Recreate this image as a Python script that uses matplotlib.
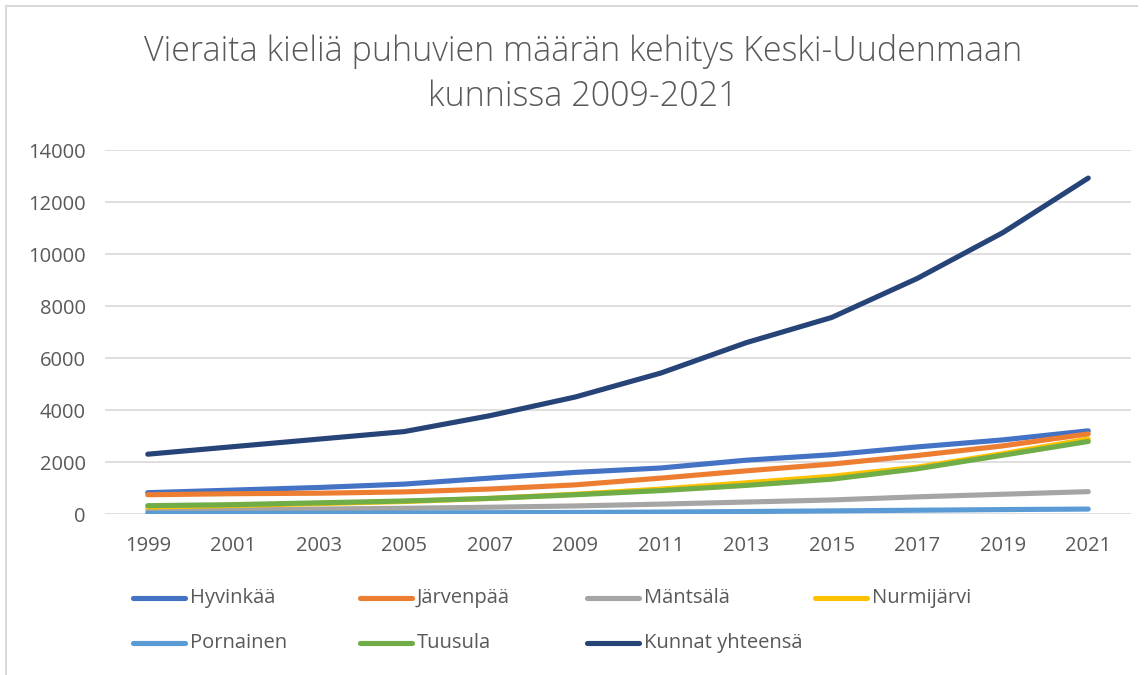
import matplotlib
matplotlib.use("Agg")
import matplotlib.pyplot as plt
from matplotlib.lines import Line2D

plt.rcParams['font.family'] = ['Open Sans', 'DejaVu Sans']

title = "Vieraita kieliä puhuvien määrän kehitys Keski-Uudenmaan\nkunnissa 2009-2021"
years = [1999, 2001, 2003, 2005, 2007, 2009, 2011, 2013, 2015, 2017, 2019, 2021]
series_names = ["Hyvinkää", "Järvenpää", "Mäntsälä", "Nurmijärvi",
                "Pornainen", "Tuusula", "Kunnat yhteensä"]
hyvinkaa = [820, 920, 1020, 1150, 1380, 1600, 1770, 2070, 2280, 2580, 2850, 3200]
jarvenpaa = [740, 780, 800, 850, 960, 1120, 1380, 1660, 1920, 2250, 2620, 3080]
mantsala = [130, 160, 190, 220, 260, 310, 380, 460, 540, 660, 760, 860]
nurmijarvi = [270, 330, 400, 480, 600, 760, 960, 1200, 1450, 1800, 2320, 2880]
pornainen = [20, 25, 30, 40, 50, 60, 75, 95, 120, 145, 170, 190]
tuusula = [320, 360, 430, 500, 600, 740, 900, 1100, 1340, 1740, 2260, 2790]
kunnat = [2300, 2590, 2880, 3170, 3780, 4500, 5420, 6590, 7560, 9060, 10820, 12920]
yticks = [0, 2000, 4000, 6000, 8000, 10000, 12000, 14000]

values = [hyvinkaa, jarvenpaa, mantsala, nurmijarvi, pornainen, tuusula, kunnat]
colors = ["#4472C4", "#ED7D31", "#A5A5A5", "#FFC000", "#5B9BD5", "#70AD47", "#264478"]

W, H = 1146, 675
fig = plt.figure(figsize=(W / 100, H / 100), dpi=100)
ax = fig.add_axes([105 / W, 1 - 514 / H, (1131 - 105) / W, (514 - 150) / H])

for name, vals, c in zip(series_names, values, colors):
    ax.plot(years, vals, color=c, lw=3.7, solid_capstyle='round',
            solid_joinstyle='round', label=name)

ax.set_xlim(1998, 2022)
ax.set_ylim(0, 14000)
ax.set_xticks(years)
ax.set_xticklabels([str(y) for y in years])
ax.set_yticks(yticks)
ax.set_yticklabels([str(v) for v in yticks])
ax.tick_params(axis='both', length=0, labelsize=14.5, labelcolor='#595959')
ax.tick_params(axis='x', pad=16)
ax.tick_params(axis='y', pad=14)
ax.grid(axis='y', color='#D9D9D9', lw=1.2)
ax.set_axisbelow(True)
for s in ax.spines.values():
    s.set_visible(False)

fig.text(583 / W, 1 - 74 / H, title, ha='center', va='center', fontsize=24.5,
         color='#595959', linespacing=1.36, fontweight='light')

# legend, Excel-style fixed columns
col_x = [133, 360, 587, 815]
row_y = [598, 643]
for i, (name, c) in enumerate(zip(series_names, colors)):
    r, k = divmod(i, 4)
    x0 = col_x[k]
    y0 = row_y[r]
    fig.add_artist(Line2D([x0 / W, (x0 + 52) / W], [1 - y0 / H, 1 - y0 / H],
                          color=c, lw=3.7, solid_capstyle='round'))
    fig.text((x0 + 57) / W, 1 - y0 / H, name, ha='left', va='center',
             fontsize=14.5, color='#595959')

# chart border
fig.add_artist(Line2D([6 / W, 1137 / W], [1 - 6 / H, 1 - 6 / H], color='#D9D9D9', lw=1.5))
fig.add_artist(Line2D([6 / W, 6 / W], [1 - 6 / H, 0], color='#D9D9D9', lw=1.5))

fig.savefig("out.png", dpi=100)
